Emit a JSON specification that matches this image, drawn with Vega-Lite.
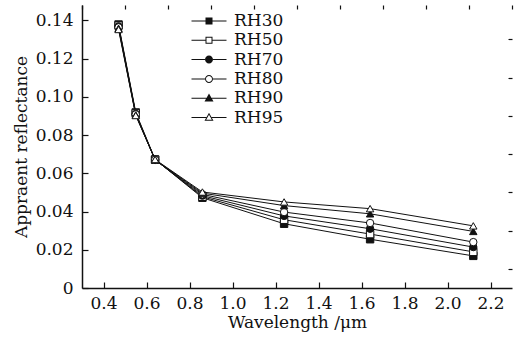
{
  "$schema": "https://vega.github.io/schema/vega-lite/v6.json",
  "width": 430,
  "height": 283,
  "autosize": {"type": "none"},
  "padding": {"left": 82, "top": 5, "right": 11, "bottom": 49},
  "background": "white",
  "config": {
    "view": {"stroke": null},
    "font": "DejaVu Serif",
    "axis": {
      "grid": false,
      "domainColor": "#111",
      "domainWidth": 1.5,
      "tickColor": "#111",
      "tickWidth": 1.2,
      "labelFont": "DejaVu Serif",
      "labelFontSize": 17,
      "labelColor": "#111",
      "titleFont": "DejaVu Serif",
      "titleFontSize": 17,
      "titleFontWeight": "normal",
      "titleColor": "#111"
    }
  },
  "data": {
    "values": [
      {"w": 0.47, "rh": "RH30", "r": 0.1378},
      {"w": 0.55, "rh": "RH30", "r": 0.0918},
      {"w": 0.64, "rh": "RH30", "r": 0.0672},
      {"w": 0.86, "rh": "RH30", "r": 0.0472},
      {"w": 1.24, "rh": "RH30", "r": 0.0336},
      {"w": 1.64, "rh": "RH30", "r": 0.0255},
      {"w": 2.12, "rh": "RH30", "r": 0.0168},
      {"w": 0.47, "rh": "RH50", "r": 0.1372},
      {"w": 0.55, "rh": "RH50", "r": 0.0913},
      {"w": 0.64, "rh": "RH50", "r": 0.0671},
      {"w": 0.86, "rh": "RH50", "r": 0.0477},
      {"w": 1.24, "rh": "RH50", "r": 0.0357},
      {"w": 1.64, "rh": "RH50", "r": 0.0282},
      {"w": 2.12, "rh": "RH50", "r": 0.0189},
      {"w": 0.47, "rh": "RH70", "r": 0.1368},
      {"w": 0.55, "rh": "RH70", "r": 0.0910},
      {"w": 0.64, "rh": "RH70", "r": 0.0670},
      {"w": 0.86, "rh": "RH70", "r": 0.0483},
      {"w": 1.24, "rh": "RH70", "r": 0.0377},
      {"w": 1.64, "rh": "RH70", "r": 0.0310},
      {"w": 2.12, "rh": "RH70", "r": 0.0214},
      {"w": 0.47, "rh": "RH80", "r": 0.1363},
      {"w": 0.55, "rh": "RH80", "r": 0.0908},
      {"w": 0.64, "rh": "RH80", "r": 0.0670},
      {"w": 0.86, "rh": "RH80", "r": 0.0490},
      {"w": 1.24, "rh": "RH80", "r": 0.0397},
      {"w": 1.64, "rh": "RH80", "r": 0.0340},
      {"w": 2.12, "rh": "RH80", "r": 0.0240},
      {"w": 0.47, "rh": "RH90", "r": 0.1358},
      {"w": 0.55, "rh": "RH90", "r": 0.0905},
      {"w": 0.64, "rh": "RH90", "r": 0.0671},
      {"w": 0.86, "rh": "RH90", "r": 0.0496},
      {"w": 1.24, "rh": "RH90", "r": 0.0431},
      {"w": 1.64, "rh": "RH90", "r": 0.0388},
      {"w": 2.12, "rh": "RH90", "r": 0.0296},
      {"w": 0.47, "rh": "RH95", "r": 0.1352},
      {"w": 0.55, "rh": "RH95", "r": 0.0902},
      {"w": 0.64, "rh": "RH95", "r": 0.0672},
      {"w": 0.86, "rh": "RH95", "r": 0.0502},
      {"w": 1.24, "rh": "RH95", "r": 0.0450},
      {"w": 1.64, "rh": "RH95", "r": 0.0415},
      {"w": 2.12, "rh": "RH95", "r": 0.0325}
    ]
  },
  "resolve": {
    "axis": {"x": "independent", "y": "independent"},
    "scale": {"shape": "independent"},
    "legend": {"shape": "independent"}
  },
  "layer": [
    {
      "mark": {"type": "line", "color": "#111", "strokeWidth": 1},
      "encoding": {
        "x": {
          "field": "w", "type": "quantitative",
          "scale": {"domain": [0.3, 2.3], "nice": false, "zero": false},
          "axis": {
            "values": [0.4, 0.6, 0.8, 1.0, 1.2, 1.4, 1.6, 1.8, 2.0, 2.2],
            "format": ".1f", "tickSize": -6, "labelPadding": 13.5,
            "title": "Wavelength /μm", "titlePadding": 3
          }
        },
        "y": {
          "field": "r", "type": "quantitative",
          "scale": {"domain": [0, 0.148], "nice": false, "zero": true},
          "axis": {
            "values": [0, 0.02, 0.04, 0.06, 0.08, 0.1, 0.12, 0.14],
            "labelExpr": "datum.value === 0 ? '0' : format(datum.value, '.2f')",
            "tickSize": -6, "labelPadding": 15,
            "title": "Appraent reflectance", "titlePadding": 5
          }
        },
        "detail": {"field": "rh"}
      }
    },
    {
      "mark": {"type": "point", "stroke": "#111", "strokeWidth": 1, "opacity": 1, "size": 55},
      "encoding": {
        "x": {"field": "w", "type": "quantitative", "axis": null},
        "y": {"field": "r", "type": "quantitative", "axis": null},
        "shape": {
          "field": "rh", "type": "nominal",
          "scale": {
            "domain": ["RH30", "RH50", "RH70", "RH80", "RH90", "RH95"],
            "range": ["square", "square", "circle", "circle", "triangle-up", "triangle-up"]
          },
          "legend": null
        },
        "fill": {
          "field": "rh", "type": "nominal",
          "scale": {
            "domain": ["RH30", "RH50", "RH70", "RH80", "RH90", "RH95"],
            "range": ["#111", "white", "#111", "white", "#111", "white"]
          },
          "legend": null
        }
      }
    },
    {
      "transform": [{"filter": "datum.w < 0"}],
      "mark": {"type": "point", "filled": true, "color": "#111", "opacity": 1},
      "encoding": {
        "x": {"field": "w", "type": "quantitative", "axis": null},
        "y": {"field": "r", "type": "quantitative", "axis": null},
        "shape": {
          "field": "rh", "type": "nominal",
          "scale": {
            "domain": ["RH30", "RH50", "RH70", "RH80", "RH90", "RH95"],
            "range": [
              "M-3.5,-0.1H-0.7V0.1H-3.5ZM0.7,-0.1H3.5V0.1H0.7ZM-0.7,-0.7H0.7V0.7H-0.7Z",
              "M-3.5,-0.1H-0.7V0.1H-3.5ZM0.7,-0.1H3.5V0.1H0.7ZM-0.7,-0.7H0.7V0.7H-0.7ZM-0.5,-0.5V0.5H0.5V-0.5Z",
              "M-3.5,-0.1H-0.8V0.1H-3.5ZM0.8,-0.1H3.5V0.1H0.8ZM0.8,0A0.8,0.8 0 1,1 -0.8,0A0.8,0.8 0 1,1 0.8,0Z",
              "M-3.5,-0.1H-0.8V0.1H-3.5ZM0.8,-0.1H3.5V0.1H0.8ZM0.8,0A0.8,0.8 0 1,1 -0.8,0A0.8,0.8 0 1,1 0.8,0ZM0.6,0A0.6,0.6 0 1,0 -0.6,0A0.6,0.6 0 1,0 0.6,0Z",
              "M-3.5,-0.1H-0.53V0.1H-3.5ZM0.53,-0.1H3.5V0.1H0.53ZM0,-0.95L0.9,0.65L-0.9,0.65Z",
              "M-3.5,-0.1H-0.53V0.1H-3.5ZM0.53,-0.1H3.5V0.1H0.53ZM0,-0.95L0.9,0.65L-0.9,0.65ZM0,-0.54L-0.56,0.45L0.56,0.45Z"
            ]
          },
          "legend": {
            "title": null, "orient": "none", "legendX": 118.5, "legendY": 7.5,
            "symbolSize": 100, "symbolStrokeWidth": 0,
            "symbolFillColor": "#111",
            "labelFont": "DejaVu Serif", "labelFontSize": 17,
            "labelColor": "#111", "labelOffset": 16.5, "rowPadding": 1.3, "padding": 0
          }
        }
      }
    },
    {
      "mark": {"type": "point", "opacity": 0},
      "encoding": {
        "x": {
          "field": "w", "type": "quantitative",
          "axis": {
            "values": [0.3, 0.5, 0.7, 0.9, 1.1, 1.3, 1.5, 1.7, 1.9, 2.1, 2.3],
            "labels": false, "domain": false, "title": null, "tickSize": -4
          }
        },
        "y": {
          "field": "r", "type": "quantitative",
          "axis": {
            "values": [0.01, 0.03, 0.05, 0.07, 0.09, 0.11, 0.13],
            "labels": false, "domain": false, "title": null, "tickSize": -4
          }
        }
      }
    }
  ]
}
